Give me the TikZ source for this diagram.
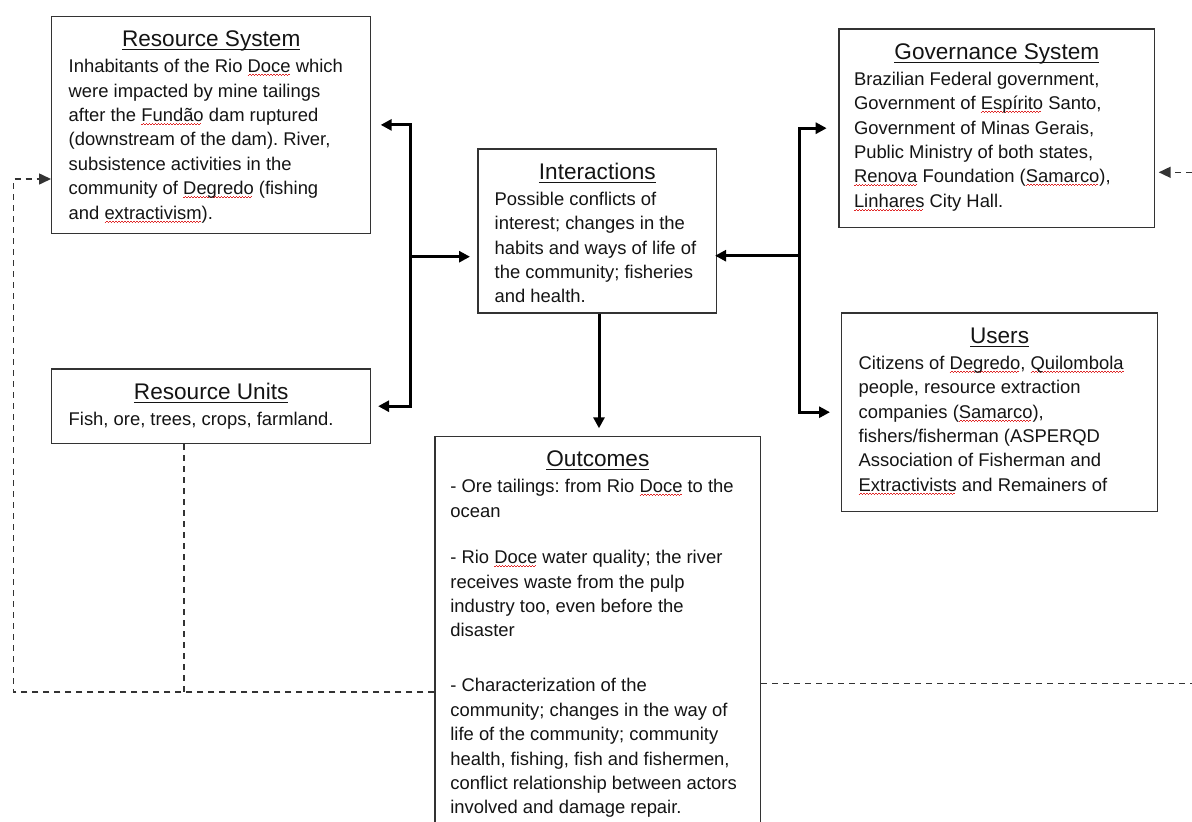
\documentclass[tikz,border=0pt]{standalone}
\usepackage{fontspec}
\setmainfont{Liberation Sans}
\usetikzlibrary{arrows.meta}
\definecolor{boxline}{HTML}{333333}
\definecolor{txt}{HTML}{141414}
\definecolor{squig}{HTML}{E02828}
\frenchspacing
\newsavebox\wordbox
\newcommand\sqw[1]{\leavevmode\sbox\wordbox{#1}\rlap{\textcolor{squig}{\leaders\hbox{\rule[-3.4pt]{1.5pt}{0.9pt}\rule[-2.3pt]{1.5pt}{0.9pt}}\hskip\wd\wordbox}}\usebox\wordbox}
\newcommand\tul[1]{\leavevmode\sbox\wordbox{#1}\rlap{\rule[-4pt]{\wd\wordbox}{1.3pt}}\usebox\wordbox}
\newcommand\bodyfont{\fontsize{18.4}{24.4}\selectfont\frenchspacing}
\newcommand\ttl[1]{{\centering\fontsize{22.6}{24}\selectfont\rule{0pt}{30pt}\tul{#1}\par}\vspace{1.9pt}}
\newcommand\boxtext[4]{\parbox[t][#1][t]{#2}{\ttl{#3}\bodyfont\raggedright #4}}
\begin{document}
\begin{tikzpicture}[x=1pt,y=-1pt,
  box/.style={draw=boxline,line width=1.4pt,anchor=north west,inner ysep=0pt,text=txt},
  arr/.style={line width=3pt,line join=miter,-{Triangle[length=11pt,width=11pt]}},
  arrboth/.style={line width=3pt,line join=miter,{Triangle[length=11pt,width=11pt]}-{Triangle[length=11pt,width=11pt]}},
  dsh/.style={draw=boxline,line width=1.6pt,dash pattern=on 6pt off 5pt},
  dtip/.style={-{Triangle[length=12pt,width=11pt]}}]
\path[use as bounding box,clip] (0,0) rectangle (1192,822);
\fill[white] (0,0) rectangle (1192,822);

% boxes
\node[box,inner xsep=17pt] (rs) at (51,15.7) {\boxtext{217pt}{285pt}{Resource System}{%
Inhabitants of the Rio \sqw{Doce} which\\
were impacted by mine tailings\\
after the \sqw{Fundão} dam ruptured\\
(downstream of the dam). River,\\
subsistence activities in the\\
community of \sqw{Degredo} (fishing\\
and \sqw{extractivism}).}};

\node[box,inner xsep=15pt] (gov) at (838.3,28.3) {\boxtext{198.4pt}{285.7pt}{Governance System}{%
Brazilian Federal government,\\
Government of \sqw{Espírito} Santo,\\
Government of Minas Gerais,\\
Public Ministry of both states,\\
\sqw{Renova} Foundation (\sqw{Samarco}),\\
\sqw{Linhares} City Hall.}};

\node[box,inner xsep=16.7pt] (int) at (477.3,148.3) {\boxtext{164pt}{205.3pt}{Interactions}{%
Possible conflicts of\\
interest; changes in the\\
habits and ways of life of\\
the community; fisheries\\
and health.}};

\node[box,inner xsep=17pt] (usr) at (841,312.3) {\boxtext{198.4pt}{281.7pt}{Users}{%
Citizens of \sqw{Degredo}, \sqw{Quilombola}\\
people, resource extraction\\
companies (\sqw{Samarco}),\\
fishers/fisherman (ASPERQD\\
Association of Fisherman and\\
\sqw{Extractivists} and Remainers of}};

\node[box,inner xsep=17pt] (ru) at (51,368.3) {\boxtext{74.4pt}{285pt}{Resource Units}{%
Fish, ore, trees, crops, farmland.}};

\node[box,inner xsep=15.4pt] (out) at (434.3,435.7) {\boxtext{404pt}{294.9pt}{Outcomes}{%
- Ore tailings: from Rio \sqw{Doce} to the\\
ocean\par\vspace{22.2pt}
- Rio \sqw{Doce} water quality; the river\\
receives waste from the pulp\\
industry too, even before the\\
disaster\par\vspace{30.6pt}
- Characterization of the\\
community; changes in the way of\\
life of the community; community\\
health, fishing, fish and fishermen,\\
conflict relationship between actors\\
involved and damage repair.}};

% junctions
\coordinate (jl) at (410,256.7);
\coordinate (jr) at (799,255.7);
\coordinate (dn) at (599,0);

% solid connectors
\draw[arrboth,shorten <=9.3pt,shorten >=6.7pt] (rs.east) -| (jl) |- (ru.east);
\draw[arr,shorten >=7.3pt] (jl) -- (jl -| int.west);
\draw[arrboth,shorten <=11.6pt,shorten >=11pt] (gov.west) -| (jr) |- (usr.west);
\draw[arr,shorten >=-2.3pt] (jr) -- (jr -| int.east);
\draw[arr,shorten >=7.4pt] (int.south -| dn) -- (out.north -| dn);

% dashed feedback connectors
\coordinate (dl) at (13.3,691.7);
\coordinate (dlt) at (13.3,179);
\coordinate (ruc) at (183.7,0);
\coordinate (dr) at (1192,683.3);
\coordinate (drt) at (1192,172.3);
\draw[dsh,dtip] (out.west |- dl) -- (dl) -- (dlt) -- (dlt -| rs.west);
\draw[dsh] (ru.south -| ruc) -- (ruc |- dl);
\draw[dsh] (out.east |- dr) -- (dr);
\draw[dsh,dtip,shorten >=3.3pt] (drt) -- (drt -| gov.east);
\end{tikzpicture}
\end{document}
